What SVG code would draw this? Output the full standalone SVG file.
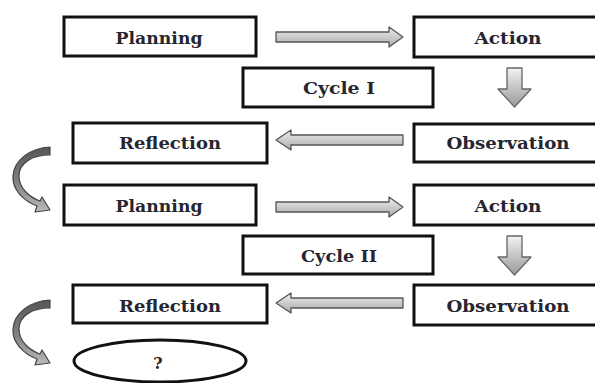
<svg xmlns="http://www.w3.org/2000/svg" width="595" height="383" viewBox="0 0 595 383">
<style>
.box{fill:#fff;stroke:#111;stroke-width:3}
.lbl{font-family:"DejaVu Serif","Liberation Serif",serif;font-weight:bold;font-size:16px;fill:#262630;text-anchor:middle}
.arr{fill:url(#g1);stroke:#555;stroke-width:1.3;stroke-linejoin:round}
.varr{fill:url(#g2);stroke:#666;stroke-width:1.3;stroke-linejoin:round}
.curv{fill:url(#g3);stroke:#444;stroke-width:1.2;stroke-linejoin:round}
</style>
<defs>
<linearGradient id="g1" x1="0" y1="0" x2="0" y2="1"><stop offset="0" stop-color="#eee"/><stop offset="1" stop-color="#aaa"/></linearGradient>
<linearGradient id="g2" x1="0" y1="0" x2="0" y2="1"><stop offset="0" stop-color="#f2f2f2"/><stop offset="1" stop-color="#999"/></linearGradient>
<linearGradient id="g3" x1="0" y1="0" x2="0" y2="1"><stop offset="0" stop-color="#555"/><stop offset="0.6" stop-color="#888"/><stop offset="1" stop-color="#bbb"/></linearGradient>
</defs>
<rect width="595" height="383" fill="#fff"/>

<g id="connectors">
<path class="arr" d="M276 32 H389 V27 L403 37 L389 47 V42 H276 Z"/>
<path class="varr" d="M507 68 H522 V89 H531 L514.5 107 L498 89 H507 Z"/>
<path class="arr" d="M403 135 H291 V130 L276 140 L291 150 V145 H403 Z"/>
<path class="curv" d="M50 147 C30 148 14 160 13 176 C12 190 24 201 37 206 L35 212 L50 210 L42 197 L40 201 C29 197 19 188 19 176 C19 163 32 155 50 155 Z"/>
<path class="arr" d="M276 202 H389 V197 L403 207 L389 217 V212 H276 Z"/>
<path class="varr" d="M507 236 H522 V257 H531 L514.5 275 L498 257 H507 Z"/>
<path class="arr" d="M403 298 H291 V293 L276 303 L291 313 V308 H403 Z"/>
<path class="curv" transform="translate(0,153)" d="M50 147 C30 148 14 160 13 176 C12 190 24 201 37 206 L35 212 L50 210 L42 197 L40 201 C29 197 19 188 19 176 C19 163 32 155 50 155 Z"/>
</g>

<g id="planning1"><rect class="box" x="64" y="17" width="192" height="39"/><text class="lbl" x="159" y="44" textLength="87" lengthAdjust="spacingAndGlyphs">Planning</text></g>
<g id="action1"><rect class="box" x="414" y="17" width="200" height="40"/><text class="lbl" x="508" y="44" textLength="67" lengthAdjust="spacingAndGlyphs">Action</text></g>
<g id="cycle1"><rect class="box" x="243" y="68" width="190" height="39"/><text class="lbl" x="339" y="94" textLength="72" lengthAdjust="spacingAndGlyphs">Cycle I</text></g>
<g id="reflection1"><rect class="box" x="73" y="123" width="194" height="40"/><text class="lbl" x="170" y="149" textLength="102" lengthAdjust="spacingAndGlyphs">Reflection</text></g>
<g id="observation1"><rect class="box" x="414" y="124" width="200" height="38"/><text class="lbl" x="508" y="149" textLength="123" lengthAdjust="spacingAndGlyphs">Observation</text></g>
<g id="planning2"><rect class="box" x="64" y="185" width="192" height="40"/><text class="lbl" x="159" y="212" textLength="87" lengthAdjust="spacingAndGlyphs">Planning</text></g>
<g id="action2"><rect class="box" x="414" y="185" width="200" height="40"/><text class="lbl" x="508" y="212" textLength="67" lengthAdjust="spacingAndGlyphs">Action</text></g>
<g id="cycle2"><rect class="box" x="243" y="236" width="190" height="38"/><text class="lbl" x="339" y="262" textLength="76" lengthAdjust="spacingAndGlyphs">Cycle II</text></g>
<g id="reflection2"><rect class="box" x="73" y="285" width="194" height="38"/><text class="lbl" x="170" y="312" textLength="102" lengthAdjust="spacingAndGlyphs">Reflection</text></g>
<g id="observation2"><rect class="box" x="414" y="285" width="200" height="40"/><text class="lbl" x="508" y="312" textLength="123" lengthAdjust="spacingAndGlyphs">Observation</text></g>
<g id="end"><ellipse class="box" cx="160" cy="361" rx="86" ry="21"/><text class="lbl" x="158" y="369" font-size="14px">?</text></g>
</svg>
